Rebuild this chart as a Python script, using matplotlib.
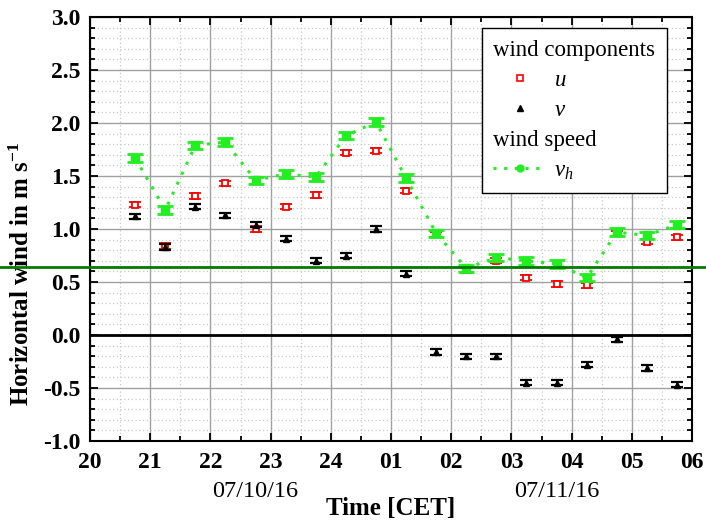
import matplotlib
matplotlib.use('Agg')
import matplotlib.pyplot as plt
import matplotlib.transforms as mtransforms
from matplotlib.lines import Line2D
from matplotlib.ticker import MultipleLocator
import numpy as np

plt.rcParams['font.family'] = 'Liberation Serif'
plt.rcParams['mathtext.fontset'] = 'custom'
plt.rcParams['mathtext.rm'] = 'Liberation Serif'
plt.rcParams['mathtext.it'] = 'Liberation Serif:italic'
plt.rcParams['mathtext.bf'] = 'Liberation Serif:bold'

# half-hourly averages, hours after midnight counted on from 24
time_h = [20.75, 21.25, 21.75, 22.25, 22.75, 23.25, 23.75, 24.25, 24.75, 25.25,
          25.75, 26.25, 26.75, 27.25, 27.75, 28.25, 28.75, 29.25, 29.75]
u = [1.23, 0.84, 1.31, 1.43, 1.00, 1.21, 1.32, 1.72, 1.74, 1.36,
     0.95, 0.61, 0.70, 0.54, 0.48, 0.47, 0.96, 0.88, 0.92]
v = [1.12, 0.83, 1.21, 1.13, 1.04, 0.91, 0.70, 0.75, 1.00, 0.58,
     -0.16, -0.20, -0.20, -0.45, -0.45, -0.28, -0.04, -0.31, -0.47]
vh = [1.67, 1.18, 1.79, 1.82, 1.46, 1.52, 1.49, 1.88, 2.01, 1.48,
      0.96, 0.63, 0.73, 0.70, 0.67, 0.54, 0.97, 0.94, 1.04]
err_u = 0.025
err_v = 0.025
err_vh = 0.035

hour_ticks = [20, 21, 22, 23, 24, 25, 26, 27, 28, 29, 30]
hour_labels = ['20', '21', '22', '23', '24', '01', '02', '03', '04', '05', '06']
dates = ['07/10/16', '07/11/16']
date_pos = [22.75, 27.75]
ref_level = 0.645

green = '#22ee22'

fig = plt.figure(figsize=(7.06, 5.25), dpi=100)
ax = fig.add_axes([0.1275, 0.16, 0.8527, 0.8076])

ax.errorbar(time_h, u, yerr=err_u, fmt='s', ms=4.3, mfc='white', mec='red', mew=1.3,
            ecolor='red', elinewidth=1.2, capsize=4.5, capthick=1.6, zorder=3)
ax.errorbar(time_h, v, yerr=err_v, fmt='^', ms=4.5, color='black',
            elinewidth=1.2, capsize=4.5, capthick=1.6, zorder=4)
ax.errorbar(time_h, vh, yerr=err_vh, fmt='s', ms=5.5, color=green,
            elinewidth=1.5, capsize=5.5, capthick=2, zorder=5, linestyle='none')
ax.plot(time_h, vh, color=green, linestyle=(0, (1, 2.6)), lw=2.2, zorder=5)

ax.axhline(0, color='black', lw=2, zorder=2)

# reference level across the whole figure width
trans = mtransforms.blended_transform_factory(fig.transFigure, ax.transData)
ax.plot([0, 1], [ref_level, ref_level], color='#007a00', lw=2, transform=trans,
        clip_on=False, zorder=6)

ax.set_xlim(20, 30)
ax.set_ylim(-1.0, 3.0)
ax.set_xticks(hour_ticks)
ax.set_xticklabels(hour_labels, fontweight='bold', fontsize=17)
ax.xaxis.set_minor_locator(MultipleLocator(0.5))
ax.yaxis.set_minor_locator(MultipleLocator(0.1))
yt = np.arange(-1.0, 3.01, 0.5)
ax.set_yticks(yt)
ax.set_yticklabels(['%.1f' % t for t in yt], fontweight='bold', fontsize=17)

ax.tick_params(which='both', direction='in', top=True, right=True, width=1.3)
ax.tick_params(which='major', length=6)
ax.tick_params(which='minor', length=3.5)
ax.tick_params(axis='x', which='major', pad=8)
ax.tick_params(axis='y', which='major', pad=7)

ax.grid(which='major', color='#a0a0a0', lw=1.0)
ax.grid(which='minor', color='#c8c8c8', lw=0.9, linestyle=(0, (1, 2)))
ax.set_axisbelow(True)
for sp in ax.spines.values():
    sp.set_linewidth(1.5)

ax.set_xlabel('Time [CET]', fontsize=18, fontweight='bold')
ax.xaxis.set_label_coords(0.5, -0.133)
ax.set_ylabel(r'Horizontal wind in m s$^{\mathbf{-1}}$', fontsize=18, fontweight='bold')
ax.yaxis.set_label_coords(-0.093, 0.394)

for d, p in zip(dates, date_pos):
    ax.text(p, -0.119, d, transform=mtransforms.blended_transform_factory(ax.transData, ax.transAxes),
            ha='center', va='center', fontsize=17.5)

# legend with two group headings
blank = Line2D([], [], linestyle='none')
h_u = Line2D([], [], linestyle='none', marker='s', ms=5, mfc='white', mec='red', mew=1.2)
h_v = Line2D([], [], linestyle='none', marker='^', ms=5, color='black')
h_vh = Line2D([], [], color=green, linestyle=(0, (1, 2.5)), lw=2.2, marker='o', ms=5)
leg = ax.legend([blank, h_u, h_v, blank, h_vh],
                ['wind components', '$u$', '$v$', 'wind speed', '$v_h$'],
                loc='upper right', bbox_to_anchor=(0.958, 0.974), borderaxespad=0,
                fancybox=False, edgecolor='black', framealpha=1, fontsize=16.5,
                handlelength=2.3, handletextpad=0.35, labelspacing=0.4,
                borderpad=0.5)
leg.get_frame().set_linewidth(1.0)
for col in leg._legend_handle_box.get_children():
    for i, row in enumerate(col.get_children()):
        if i in (0, 3):
            row.get_children()[0].set_width(0)
            row.sep = 0

fig.savefig('out.png', dpi=100)
